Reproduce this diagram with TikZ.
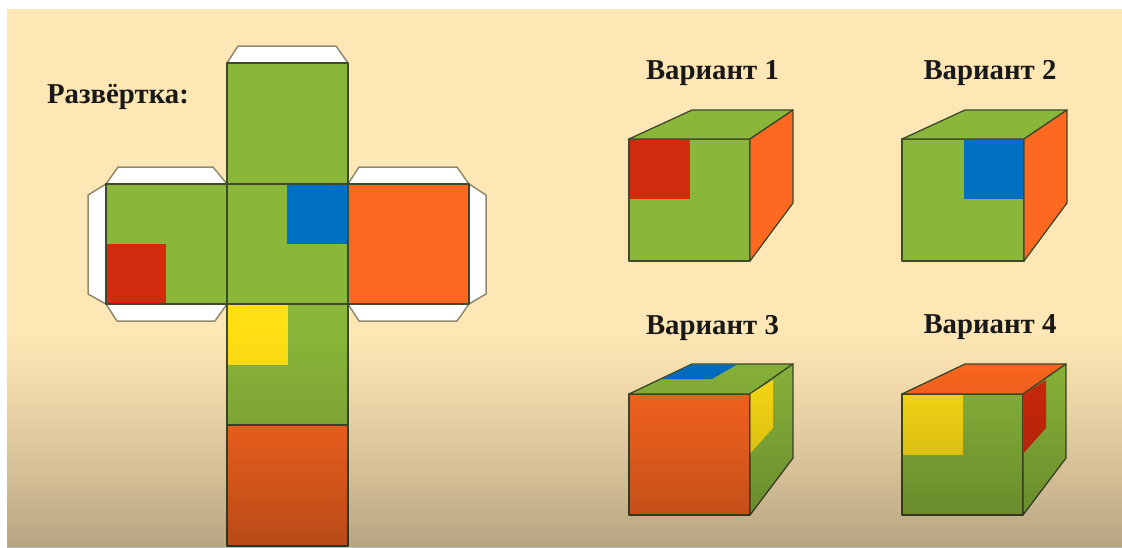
\documentclass[tikz,border=0pt]{standalone}
\usepackage{fontspec}
\setmainfont{Liberation Serif}
\definecolor{bgc}{HTML}{FFE6B5}
\definecolor{grn}{HTML}{8AB63A}
\definecolor{org}{HTML}{FF6820}
\definecolor{blu}{HTML}{0070C4}
\definecolor{rdd}{HTML}{D22A0C}
\definecolor{ylw}{HTML}{FFE015}
\definecolor{edg}{HTML}{3F4A2C}
\definecolor{tabedge}{HTML}{8F8A70}
\tikzset{
  face/.style={draw=edg,line width=1.3pt,line join=round},
  tabshape/.style={fill=white,draw=tabedge,line width=1.5pt,line join=round},
  title/.style={font=\bfseries\fontsize{28.8}{32}\selectfont,text=black!90,inner sep=0pt,anchor=base}
}
\begin{document}
\begin{tikzpicture}[x=1pt,y=-1pt]
\useasboundingbox (0,0) rectangle (1122,547);
\fill[white] (0,0) rectangle (1122,547);
\fill[bgc] (7,9) rectangle (1122,547);
% net tabs
\draw[tabshape] (227,63)--(238,46)--(336,46)--(348,63)--cycle;
\draw[tabshape] (106,184)--(118,167)--(213,167)--(227,184)--cycle;
\draw[tabshape] (106,184)--(88,195)--(88,294)--(106,304)--cycle;
\draw[tabshape] (106,304)--(117,321)--(215,321)--(227,304)--cycle;
\draw[tabshape] (348,184)--(359,167)--(457,167)--(469,184)--cycle;
\draw[tabshape] (469,184)--(486,195)--(486,294)--(469,304)--cycle;
\draw[tabshape] (348,304)--(359,321)--(457,321)--(469,304)--cycle;
% net faces
\fill[grn] (227,63) rectangle (348,425);
\fill[grn] (106,184) rectangle (227,304);
\fill[org] (348,184) rectangle (469,304);
\fill[org] (227,425) rectangle (348,546);
\fill[blu] (287,184) rectangle (348,244);
\fill[rdd] (106,244) rectangle (166,304);
\fill[ylw] (227,304) rectangle (288,365);
\draw[face] (227,63) rectangle (348,184);
\draw[face] (227,184) rectangle (348,304);
\draw[face] (227,304) rectangle (348,425);
\draw[face] (227,425) rectangle (348,546);
\draw[face] (106,184) rectangle (227,304);
\draw[face] (348,184) rectangle (469,304);
% cube 1
\fill[grn] (629,139) rectangle (750,261);
\fill[rdd] (629,139) rectangle (690,199);
\draw[face] (629,139) rectangle (750,261);
\draw[face,fill=grn] (629,139)--(692,110)--(793,110)--(750,139)--cycle;
\draw[face,fill=org] (750,139)--(793,110)--(793,203)--(750,261)--cycle;
% cube 2
\fill[grn] (902,139) rectangle (1024,261);
\fill[blu] (964,139) rectangle (1024,199);
\draw[face] (902,139) rectangle (1024,261);
\draw[face,fill=grn] (902,139)--(965,110)--(1067,110)--(1024,139)--cycle;
\draw[face,fill=org] (1024,139)--(1067,110)--(1067,203)--(1024,261)--cycle;
% cube 3
\draw[face,fill=org] (629,394) rectangle (750,515);
\draw[face,fill=grn] (629,394)--(692,364)--(793,364)--(750,394)--cycle;
\fill[blu] (692,364.6)--(737,364.6)--(712,379)--(662,379)--cycle;
\draw[face,fill=grn] (750,394)--(793,364)--(793,458)--(750,515)--cycle;
\fill[ylw] (750.6,394)--(773,380)--(773,428)--(750.6,453)--cycle;
% cube 4
\fill[grn] (902,394) rectangle (1023,515);
\fill[ylw] (902.6,394.6) rectangle (963,455);
\draw[face] (902,394) rectangle (1023,515);
\draw[face,fill=org] (902,394)--(965,364)--(1066,364)--(1023,394)--cycle;
\draw[face,fill=grn] (1023,394)--(1066,364)--(1066,458)--(1023,515)--cycle;
\fill[rdd] (1023.6,394)--(1046,380)--(1046,428)--(1023.6,453)--cycle;
% texts
\node[title] (tnet) at (118,103) {Развёртка:};
\node[title] (t1) at (712.5,79) {Вариант 1};
\node[title] (t2) at (990,79) {Вариант 2};
\node[title] (t3) at (712.5,334) {Вариант 3};
\node[title] (t4) at (990,333) {Вариант 4};
% darkening towards the bottom
\foreach \i in {0,...,108} {
  \pgfmathsetmacro{\op}{0.28*(\i/108)^1.2}
  \fill[black,opacity=\op] (7,330+2*\i) rectangle (1122,332+2*\i);
}
\end{tikzpicture}
\end{document}
